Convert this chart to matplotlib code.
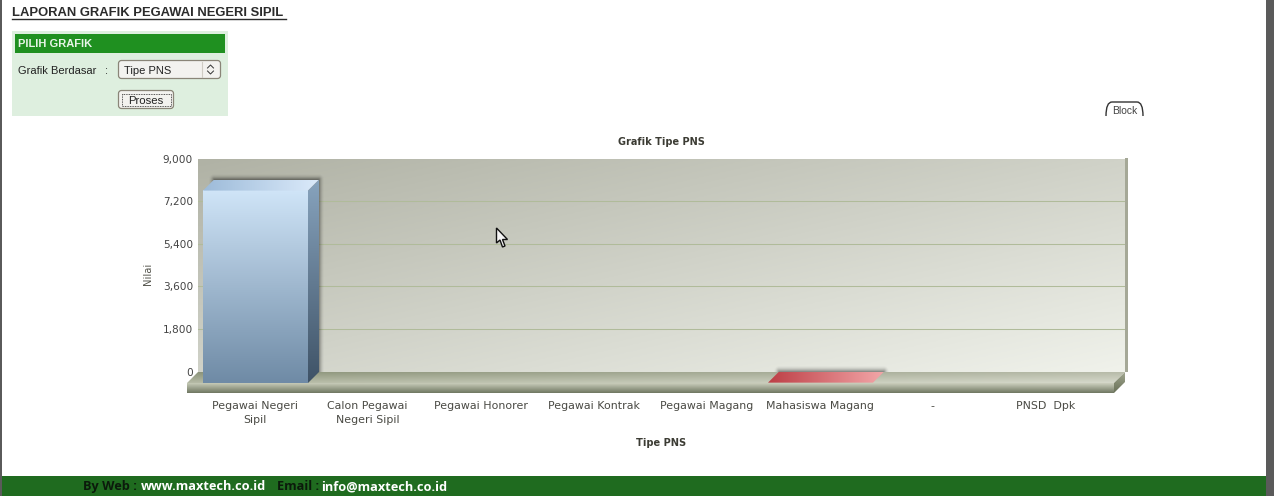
import numpy as np
import matplotlib
matplotlib.use("Agg")
import matplotlib.pyplot as plt
from matplotlib.colors import to_rgb
from matplotlib.patches import Polygon, Rectangle, FancyBboxPatch, PathPatch
from matplotlib.path import Path

categories = ["Pegawai Negeri\nSipil", "Calon Pegawai\nNegeri Sipil", "Pegawai Honorer",
              "Pegawai Kontrak", "Pegawai Magang", "Mahasiswa Magang", "-", "PNSD  Dpk"]
values = [8130, 0, 0, 0, 0, 15, 0, 0]
y_ticks = [0, 1800, 3600, 5400, 7200, 9000]
y_tick_labels = ["0", "1,800", "3,600", "5,400", "7,200", "9,000"]
chart_title = "Grafik Tipe PNS"
x_title = "Tipe PNS"
y_title = "Nilai"
page_title = "LAPORAN GRAFIK PEGAWAI NEGERI SIPIL"

W, H = 1274, 496
fig = plt.figure(figsize=(W / 100, H / 100), dpi=100, facecolor="white")


def axpx(x0, y0, x1, y1, **kw):
    return fig.add_axes([x0 / W, 1 - y1 / H, (x1 - x0) / W, (y1 - y0) / H], **kw)


def grad(ax, x0, x1, y0, y1, c00, c10, c01, c11, clip=None, zorder=2):
    """Bilinear gradient: c00 left/bottom, c10 right/bottom, c01 left/top, c11 right/top."""
    n = 64
    u, v = np.meshgrid(np.linspace(0, 1, n), np.linspace(0, 1, n))
    cs = [np.array(to_rgb(c)) for c in (c00, c10, c01, c11)]
    img = ((1 - u) * (1 - v))[..., None] * cs[0] + (u * (1 - v))[..., None] * cs[1] \
        + ((1 - u) * v)[..., None] * cs[2] + (u * v)[..., None] * cs[3]
    im = ax.imshow(img, extent=(x0, x1, y0, y1), origin="lower", aspect="auto",
                   interpolation="bilinear", zorder=zorder)
    im.set_clip_box(fig.bbox)
    if clip is not None:
        im.set_clip_path(Polygon(clip, closed=True, transform=ax.transData))
    else:
        im.set_clip_path(None)
    return im


# ---------- page layer ----------
page = axpx(0, 0, W, H, zorder=0)
page.set_xlim(0, W)
page.set_ylim(H, 0)
page.axis("off")
page.add_patch(Rectangle((0, 0), 2, H, color="#5a5a5a", lw=0))
page.add_patch(Rectangle((1266, 0), 8, H, color="#5a5a5a", lw=0))
page.add_patch(Rectangle((2, 476), 1264, 20, color="#1f6b1f", lw=0))

SANS = "Liberation Sans"
page.text(12, 13, page_title, family=SANS, weight="bold", fontsize=9.4, color="#2b2b2b", va="center")
page.plot([12, 286], [19, 19], color="#2b2b2b", lw=1)
page.add_patch(Rectangle((12, 31), 216, 85, color="#deefdf", lw=0))
page.add_patch(Rectangle((15, 34), 210, 19, color="#1f9020", lw=0))
page.text(18, 44, "PILIH GRAFIK", family=SANS, weight="bold", fontsize=8, color="#e8f5e8", va="center")
page.text(18, 70.5, "Grafik Berdasar", family=SANS, fontsize=8, color="#222222", va="center")
page.text(105, 70.5, ":", family=SANS, fontsize=8, color="#222222", va="center")
page.add_patch(FancyBboxPatch((118.5, 60.5), 102, 18, boxstyle="round,pad=0,rounding_size=3",
                              fc="#f3f2ef", ec="#8a8578", lw=0.9))
page.plot([201.5, 201.5], [62, 77], color="#cfccc4", lw=0.8)
page.plot([207.5, 210.5, 213.5], [68, 65, 68], color="#333333", lw=0.7)
page.plot([207.5, 210.5, 213.5], [71, 74, 71], color="#333333", lw=0.7)
page.text(124, 70.5, "Tipe PNS", family=SANS, fontsize=8, color="#222222", va="center")
page.add_patch(FancyBboxPatch((118.5, 90.5), 55, 18, boxstyle="round,pad=0,rounding_size=3",
                              fc="#f3f2ef", ec="#8a8578", lw=0.9))
page.add_patch(Rectangle((121.5, 93.5), 49, 12, fc="none", ec="#222222", lw=0.6, ls=(0, (1, 1))))
page.text(146, 100.5, "Proses", family=SANS, fontsize=8.2, color="#222222", va="center", ha="center")

# "Block" tab
tab = Path([(1106, 116), (1106, 102), (1112, 102), (1137, 102), (1143, 102), (1143, 116)],
           [Path.MOVETO, Path.CURVE3, Path.CURVE3, Path.LINETO, Path.CURVE3, Path.CURVE3])
page.add_patch(PathPatch(tab, fc="none", ec="#333333", lw=1))
page.text(1124.5, 110.5, "Block", family=SANS, fontsize=7.4, color="#444444", ha="center", va="center")

# Footer
FOOT = "Open Sans"
for x, s, c in [(83, "By Web :", "#0b1a0b"), (141, "www.maxtech.co.id", "#ffffff"),
                (277, "Email :", "#0b1a0b"), (321, "info@maxtech.co.id", "#ffffff")]:
    page.text(x, 486.5, s, family=FOOT, weight="bold", fontsize=9.2, color=c, va="center")

# ---------- back plane: wall, grid, value axis ----------
back = axpx(198, 158.5, 1125, 371.5, zorder=1)
back.set_facecolor("none")
n = 128
u, v = np.meshgrid(np.linspace(0, 1, n), np.linspace(0, 1, n))
t = ((u * 0.5 + (1 - v) * 0.5))[..., None]
c0, c1 = np.array([0xb0, 0xb2, 0xa5]) / 255, np.array([0xf0, 0xf2, 0xeb]) / 255
back.imshow(c0 + (c1 - c0) * t, extent=(0, 1, 0, 9000), origin="lower", aspect="auto", zorder=0)
back.set_xlim(0, 1)
back.set_ylim(0, 9000)
back.add_patch(Rectangle((1, 0), 2.5 / 927, 9000, color="#a5a897", lw=0, clip_on=False))
back.set_yticks(y_ticks, y_tick_labels)
back.set_xticks([])
back.tick_params(axis="y", length=0, pad=3.6, labelsize=7.6, labelcolor="#444444")
back.set_axisbelow(True)
back.grid(axis="y", color="#b0bb9a", lw=0.75)
grid_lines = back.yaxis.get_gridlines()
grid_lines[0].set_visible(False)
grid_lines[-1].set_visible(False)
for s in back.spines.values():
    s.set_visible(False)
back.set_title(chart_title, fontsize=7, weight="bold", color="#3c3c34", pad=10)
back.set_xlabel(x_title, fontsize=7.1, weight="bold", color="#3c3c34")
back.xaxis.set_label_coords(0.5, -66 / 213)
back.set_ylabel(y_title, fontsize=7.2, color="#55554d")
back.yaxis.set_label_coords(-45 / 927, (372 - 274) / 213)

# ---------- front plane: floor and bars ----------
ax = axpx(199, 170, 1103, 383, zorder=2)
ax.patch.set_visible(False)
ax.set_xlim(-0.5, 7.5)
ax.set_ylim(0, 9000)
for s in ax.spines.values():
    s.set_visible(False)
ax.set_yticks([])
px_x = 8 / (1103 - 199)
px_y = 9000 / 213
dx, dy = 11 * px_x, 11 * px_y
pos = np.arange(len(categories), dtype=float)
ax.set_xticks(pos - px_x, categories)
ax.tick_params(axis="x", length=0, pad=12.8, labelsize=7.9, labelcolor="#4a4a44")
for lab in ax.get_xticklabels():
    lab.set_linespacing(1.5)

# floor
fl = -0.5 - 12 * px_x
fr = fl + 927 * px_x
slab = -10 * px_y
grad(ax, fl, fr + dx, 0, dy, "#b6bba6", "#d6d9cb", "#8b9379", "#b7bba9",
     clip=[(fl, 0), (fr, 0), (fr + dx, dy), (fl + dx, dy)], zorder=1)
grad(ax, fl, fr, slab, 0, "#6f7761", "#6f7761", "#c6cab7", "#cdd0bf",
     clip=[(fl, 0), (fr, 0), (fr, slab), (fl, slab)], zorder=1)
grad(ax, fr, fr + dx, slab, dy, "#6a7259", "#6a7259", "#979e85", "#a3a892",
     clip=[(fr, 0), (fr + dx, dy), (fr + dx, dy + slab), (fr, slab)], zorder=1)


def shadow(x0, x1, y0, y1, reach=6, strength=0.42):
    """Soft shadow round a rectangle given in data units."""
    rx, ry = reach * px_x, reach * px_y
    xs = np.linspace(x0 - rx, x1 + rx, 300)
    ys = np.linspace(y0, y1 + ry, 300)
    X, Y = np.meshgrid(xs, ys)
    ddx = np.maximum(np.maximum(x0 - X, X - x1) / rx, 0)
    ddy = np.maximum((Y - y1) / ry, 0)
    d = np.clip(np.hypot(ddx, ddy), 0, 1)
    rgba = np.zeros(X.shape + (4,))
    rgba[..., 3] = strength * (1 - d) ** 2
    im = ax.imshow(rgba, extent=(xs[0], xs[-1], ys[0], ys[-1]), origin="lower", aspect="auto",
                   zorder=1.5)
    im.set_clip_box(fig.bbox)
    im.set_clip_path(None)


bw = 105 * px_x
PAL = {0: dict(front=("#6f8ba6", "#cfe4f7"), top=("#9dbbd9", "#dbeafa"), side=("#3f5367", "#87a3bd")),
       5: dict(front=("#c04a50", "#e58f92"), top=("#bd3f46", "#f2a6a8"), side=("#7a2a30", "#a04048"))}
for x, val in zip(pos, values):
    if val <= 0:
        continue
    p = PAL[int(x)]
    l, r = x - bw / 2, x + bw / 2
    shadow(l + dx, r + dx, dy, val + dy)
    if val > 100:
        grad(ax, l, r, 0, val, p["front"][0], p["front"][0], p["front"][1], p["front"][1], zorder=3)
        grad(ax, r, r + dx, 0, val + dy, p["side"][0], p["side"][0], p["side"][1], p["side"][1],
             clip=[(r, 0), (r + dx, dy), (r + dx, val + dy), (r, val)], zorder=3)
    grad(ax, l, r + dx, val, val + dy, p["top"][0], p["top"][1], p["top"][0], p["top"][1],
         clip=[(l, val), (r, val), (r + dx, val + dy), (l + dx, val + dy)], zorder=3)
ax.set_xlim(-0.5, 7.5)
ax.set_ylim(0, 9000)

# ---------- cursor ----------
top = axpx(0, 0, W, H, zorder=5)
top.patch.set_visible(False)
top.set_xlim(0, W)
top.set_ylim(H, 0)
top.axis("off")
top.add_patch(Polygon([(496.5, 228), (496.5, 243), (500, 240), (502.5, 247), (505, 246), (502.5, 239.5), (507.5, 239.5)],
                      closed=True, fc="#f5f5f5", ec="#111111", lw=1))

fig.savefig("out.png", dpi=100)
